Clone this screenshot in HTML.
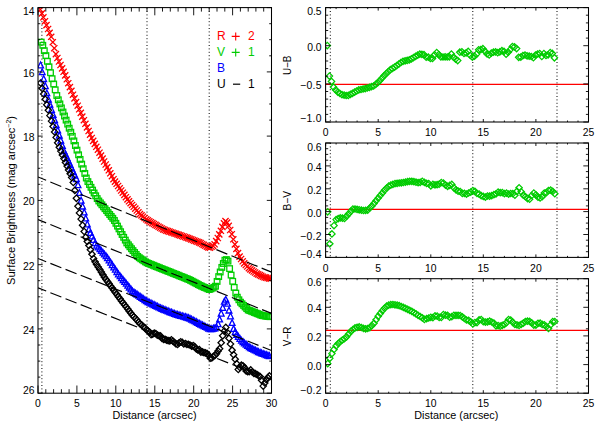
<!DOCTYPE html>
<html><head><meta charset="utf-8"><title>plot</title>
<style>
html,body{margin:0;padding:0;background:#fff;}
svg{display:block;}
text{font-family:"Liberation Sans",sans-serif;}
</style></head><body>
<svg width="598" height="423" viewBox="0 0 598 423">
<rect width="598" height="423" fill="#fff"/>
<defs>
<path id="sx" d="M-3.1,-3.1L3.1,3.1M-3.1,3.1L3.1,-3.1" fill="none" stroke="#ff0000" stroke-width="1.3"/>
<rect id="ss" x="-2.8" y="-2.8" width="5.6" height="5.6" fill="none" stroke="#00cc00" stroke-width="1.3"/>
<path id="st" d="M-2.9,2.8L0,-3L2.9,2.8Z" fill="none" stroke="#0000ff" stroke-width="1.3"/>
<path id="sd" d="M-3.2,0L0,-3.2L3.2,0L0,3.2Z" fill="none" stroke="#000" stroke-width="1.25"/>
<path id="sg" d="M-3.2,0L0,-3.2L3.2,0L0,3.2Z" fill="none" stroke="#00cc00" stroke-width="1.25"/>
<clipPath id="cl"><rect x="38" y="7.6" width="233.5" height="385.6"/></clipPath>
</defs>

<g clip-path="url(#cl)">
<line x1="41.9" y1="7.6" x2="41.9" y2="393.2" stroke="#000" stroke-width="1" stroke-dasharray="1,2.4"/>
<line x1="147.0" y1="7.6" x2="147.0" y2="393.2" stroke="#000" stroke-width="1" stroke-dasharray="1,2.4"/>
<line x1="209.2" y1="7.6" x2="209.2" y2="393.2" stroke="#000" stroke-width="1" stroke-dasharray="1,2.4"/>
<g><use href="#sx" x="40.3" y="9.5"/><use href="#sx" x="41.9" y="13.4"/><use href="#sx" x="43.4" y="17.3"/><use href="#sx" x="45.0" y="21.2"/><use href="#sx" x="46.5" y="25.1"/><use href="#sx" x="48.1" y="29.0"/><use href="#sx" x="49.6" y="32.9"/><use href="#sx" x="51.2" y="36.8"/><use href="#sx" x="52.8" y="42.2"/><use href="#sx" x="54.3" y="48.2"/><use href="#sx" x="55.9" y="54.1"/><use href="#sx" x="57.4" y="58.0"/><use href="#sx" x="59.0" y="61.5"/><use href="#sx" x="60.5" y="65.0"/><use href="#sx" x="62.1" y="68.4"/><use href="#sx" x="63.6" y="71.8"/><use href="#sx" x="65.2" y="75.4"/><use href="#sx" x="66.8" y="79.3"/><use href="#sx" x="68.3" y="83.2"/><use href="#sx" x="69.9" y="87.1"/><use href="#sx" x="71.4" y="90.9"/><use href="#sx" x="73.0" y="94.7"/><use href="#sx" x="74.5" y="98.4"/><use href="#sx" x="76.1" y="102.1"/><use href="#sx" x="77.7" y="105.7"/><use href="#sx" x="79.2" y="109.3"/><use href="#sx" x="80.8" y="112.9"/><use href="#sx" x="82.3" y="116.6"/><use href="#sx" x="83.9" y="120.2"/><use href="#sx" x="85.4" y="123.8"/><use href="#sx" x="87.0" y="127.4"/><use href="#sx" x="88.6" y="131.0"/><use href="#sx" x="90.1" y="134.6"/><use href="#sx" x="91.7" y="138.0"/><use href="#sx" x="93.2" y="140.9"/><use href="#sx" x="94.8" y="143.9"/><use href="#sx" x="96.3" y="146.8"/><use href="#sx" x="97.9" y="149.7"/><use href="#sx" x="99.5" y="152.7"/><use href="#sx" x="101.0" y="155.6"/><use href="#sx" x="102.6" y="158.6"/><use href="#sx" x="104.1" y="161.5"/><use href="#sx" x="105.7" y="164.5"/><use href="#sx" x="107.2" y="167.4"/><use href="#sx" x="108.8" y="170.3"/><use href="#sx" x="110.3" y="173.3"/><use href="#sx" x="111.9" y="176.2"/><use href="#sx" x="113.5" y="179.2"/><use href="#sx" x="115.0" y="181.6"/><use href="#sx" x="116.6" y="183.8"/><use href="#sx" x="118.1" y="186.0"/><use href="#sx" x="119.7" y="188.3"/><use href="#sx" x="121.2" y="190.5"/><use href="#sx" x="122.8" y="192.7"/><use href="#sx" x="124.4" y="194.9"/><use href="#sx" x="125.9" y="197.2"/><use href="#sx" x="127.5" y="199.4"/><use href="#sx" x="129.0" y="201.3"/><use href="#sx" x="130.6" y="203.2"/><use href="#sx" x="132.1" y="205.0"/><use href="#sx" x="133.7" y="206.8"/><use href="#sx" x="135.3" y="208.6"/><use href="#sx" x="136.8" y="210.5"/><use href="#sx" x="138.4" y="212.3"/><use href="#sx" x="139.9" y="214.1"/><use href="#sx" x="141.5" y="215.4"/><use href="#sx" x="143.0" y="216.7"/><use href="#sx" x="144.6" y="218.0"/><use href="#sx" x="146.2" y="219.3"/><use href="#sx" x="147.7" y="220.4"/><use href="#sx" x="149.3" y="221.3"/><use href="#sx" x="150.8" y="222.2"/><use href="#sx" x="152.4" y="223.1"/><use href="#sx" x="153.9" y="224.0"/><use href="#sx" x="155.5" y="224.9"/><use href="#sx" x="157.0" y="225.8"/><use href="#sx" x="158.6" y="226.7"/><use href="#sx" x="160.2" y="227.6"/><use href="#sx" x="161.7" y="228.5"/><use href="#sx" x="163.3" y="229.4"/><use href="#sx" x="164.8" y="230.0"/><use href="#sx" x="166.4" y="230.6"/><use href="#sx" x="167.9" y="231.1"/><use href="#sx" x="169.5" y="231.6"/><use href="#sx" x="171.1" y="232.2"/><use href="#sx" x="172.6" y="232.7"/><use href="#sx" x="174.2" y="233.3"/><use href="#sx" x="175.7" y="233.8"/><use href="#sx" x="177.3" y="234.3"/><use href="#sx" x="178.8" y="234.9"/><use href="#sx" x="180.4" y="235.4"/><use href="#sx" x="182.0" y="236.0"/><use href="#sx" x="183.5" y="236.5"/><use href="#sx" x="185.1" y="237.0"/><use href="#sx" x="186.6" y="237.6"/><use href="#sx" x="188.2" y="238.1"/><use href="#sx" x="189.7" y="238.8"/><use href="#sx" x="191.3" y="239.4"/><use href="#sx" x="192.9" y="240.0"/><use href="#sx" x="194.4" y="240.6"/><use href="#sx" x="196.0" y="241.2"/><use href="#sx" x="197.5" y="241.8"/><use href="#sx" x="199.1" y="242.4"/><use href="#sx" x="200.6" y="243.1"/><use href="#sx" x="202.2" y="244.0"/><use href="#sx" x="203.7" y="244.9"/><use href="#sx" x="205.3" y="245.7"/><use href="#sx" x="206.9" y="246.6"/><use href="#sx" x="208.4" y="247.4"/><use href="#sx" x="210.0" y="247.7"/><use href="#sx" x="211.5" y="246.8"/><use href="#sx" x="213.1" y="245.9"/><use href="#sx" x="214.6" y="244.3"/><use href="#sx" x="216.2" y="241.1"/><use href="#sx" x="217.8" y="238.0"/><use href="#sx" x="219.3" y="234.4"/><use href="#sx" x="220.9" y="230.8"/><use href="#sx" x="222.4" y="226.9"/><use href="#sx" x="224.0" y="223.3"/><use href="#sx" x="225.5" y="221.1"/><use href="#sx" x="227.1" y="222.6"/><use href="#sx" x="228.7" y="225.8"/><use href="#sx" x="230.2" y="230.0"/><use href="#sx" x="231.8" y="234.2"/><use href="#sx" x="233.3" y="239.3"/><use href="#sx" x="234.9" y="244.4"/><use href="#sx" x="236.4" y="248.9"/><use href="#sx" x="238.0" y="253.1"/><use href="#sx" x="239.6" y="256.6"/><use href="#sx" x="241.1" y="259.0"/><use href="#sx" x="242.7" y="261.3"/><use href="#sx" x="244.2" y="263.4"/><use href="#sx" x="245.8" y="265.0"/><use href="#sx" x="247.3" y="266.5"/><use href="#sx" x="248.9" y="268.1"/><use href="#sx" x="250.4" y="269.4"/><use href="#sx" x="252.0" y="270.4"/><use href="#sx" x="253.6" y="271.5"/><use href="#sx" x="255.1" y="272.5"/><use href="#sx" x="256.7" y="273.6"/><use href="#sx" x="258.2" y="274.4"/><use href="#sx" x="259.8" y="275.1"/><use href="#sx" x="261.3" y="275.9"/><use href="#sx" x="262.9" y="276.7"/><use href="#sx" x="264.5" y="277.3"/><use href="#sx" x="266.0" y="277.6"/><use href="#sx" x="267.6" y="278.0"/><use href="#sx" x="269.1" y="278.4"/><use href="#sx" x="270.7" y="278.7"/></g>
<g><use href="#ss" x="41.2" y="42.1"/><use href="#ss" x="42.8" y="45.3"/><use href="#ss" x="44.3" y="50.7"/><use href="#ss" x="45.9" y="55.6"/><use href="#ss" x="47.4" y="61.3"/><use href="#ss" x="49.0" y="66.8"/><use href="#ss" x="50.5" y="72.7"/><use href="#ss" x="52.1" y="78.7"/><use href="#ss" x="53.7" y="84.0"/><use href="#ss" x="55.2" y="89.8"/><use href="#ss" x="56.8" y="95.5"/><use href="#ss" x="58.3" y="99.8"/><use href="#ss" x="59.9" y="103.9"/><use href="#ss" x="61.4" y="107.9"/><use href="#ss" x="63.0" y="112.0"/><use href="#ss" x="64.5" y="116.0"/><use href="#ss" x="66.1" y="120.1"/><use href="#ss" x="67.7" y="124.1"/><use href="#ss" x="69.2" y="128.2"/><use href="#ss" x="70.8" y="132.2"/><use href="#ss" x="72.3" y="136.3"/><use href="#ss" x="73.9" y="140.9"/><use href="#ss" x="75.4" y="145.5"/><use href="#ss" x="77.0" y="150.1"/><use href="#ss" x="78.6" y="154.8"/><use href="#ss" x="80.1" y="159.4"/><use href="#ss" x="81.7" y="164.1"/><use href="#ss" x="83.2" y="168.7"/><use href="#ss" x="84.8" y="173.4"/><use href="#ss" x="86.3" y="178.0"/><use href="#ss" x="87.9" y="181.6"/><use href="#ss" x="89.5" y="184.5"/><use href="#ss" x="91.0" y="187.3"/><use href="#ss" x="92.6" y="190.1"/><use href="#ss" x="94.1" y="193.0"/><use href="#ss" x="95.7" y="195.8"/><use href="#ss" x="97.2" y="198.6"/><use href="#ss" x="98.8" y="201.0"/><use href="#ss" x="100.4" y="202.9"/><use href="#ss" x="101.9" y="204.8"/><use href="#ss" x="103.5" y="206.8"/><use href="#ss" x="105.0" y="208.7"/><use href="#ss" x="106.6" y="210.6"/><use href="#ss" x="108.1" y="212.6"/><use href="#ss" x="109.7" y="214.5"/><use href="#ss" x="111.2" y="216.4"/><use href="#ss" x="112.8" y="218.3"/><use href="#ss" x="114.4" y="220.5"/><use href="#ss" x="115.9" y="223.3"/><use href="#ss" x="117.5" y="226.1"/><use href="#ss" x="119.0" y="228.9"/><use href="#ss" x="120.6" y="231.7"/><use href="#ss" x="122.1" y="234.5"/><use href="#ss" x="123.7" y="237.3"/><use href="#ss" x="125.3" y="240.1"/><use href="#ss" x="126.8" y="242.9"/><use href="#ss" x="128.4" y="244.8"/><use href="#ss" x="129.9" y="246.8"/><use href="#ss" x="131.5" y="248.7"/><use href="#ss" x="133.0" y="250.6"/><use href="#ss" x="134.6" y="252.5"/><use href="#ss" x="136.2" y="254.5"/><use href="#ss" x="137.7" y="256.4"/><use href="#ss" x="139.3" y="257.7"/><use href="#ss" x="140.8" y="258.8"/><use href="#ss" x="142.4" y="259.8"/><use href="#ss" x="143.9" y="260.8"/><use href="#ss" x="145.5" y="261.9"/><use href="#ss" x="147.1" y="262.8"/><use href="#ss" x="148.6" y="263.5"/><use href="#ss" x="150.2" y="264.1"/><use href="#ss" x="151.7" y="264.7"/><use href="#ss" x="153.3" y="265.3"/><use href="#ss" x="154.8" y="266.0"/><use href="#ss" x="156.4" y="266.6"/><use href="#ss" x="157.9" y="267.2"/><use href="#ss" x="159.5" y="267.8"/><use href="#ss" x="161.1" y="268.5"/><use href="#ss" x="162.6" y="269.1"/><use href="#ss" x="164.2" y="269.7"/><use href="#ss" x="165.7" y="270.3"/><use href="#ss" x="167.3" y="270.9"/><use href="#ss" x="168.8" y="271.5"/><use href="#ss" x="170.4" y="272.1"/><use href="#ss" x="172.0" y="272.8"/><use href="#ss" x="173.5" y="273.4"/><use href="#ss" x="175.1" y="274.0"/><use href="#ss" x="176.6" y="274.6"/><use href="#ss" x="178.2" y="275.2"/><use href="#ss" x="179.7" y="275.9"/><use href="#ss" x="181.3" y="276.5"/><use href="#ss" x="182.9" y="277.1"/><use href="#ss" x="184.4" y="277.7"/><use href="#ss" x="186.0" y="278.4"/><use href="#ss" x="187.5" y="279.0"/><use href="#ss" x="189.1" y="279.6"/><use href="#ss" x="190.6" y="280.4"/><use href="#ss" x="192.2" y="281.2"/><use href="#ss" x="193.8" y="282.1"/><use href="#ss" x="195.3" y="282.9"/><use href="#ss" x="196.9" y="283.7"/><use href="#ss" x="198.4" y="284.6"/><use href="#ss" x="200.0" y="285.4"/><use href="#ss" x="201.5" y="286.1"/><use href="#ss" x="203.1" y="286.8"/><use href="#ss" x="204.6" y="287.5"/><use href="#ss" x="206.2" y="288.1"/><use href="#ss" x="207.8" y="288.8"/><use href="#ss" x="209.3" y="289.5"/><use href="#ss" x="210.9" y="288.9"/><use href="#ss" x="212.4" y="288.1"/><use href="#ss" x="214.0" y="287.3"/><use href="#ss" x="215.5" y="286.2"/><use href="#ss" x="217.1" y="281.4"/><use href="#ss" x="218.7" y="276.6"/><use href="#ss" x="220.2" y="272.0"/><use href="#ss" x="221.8" y="267.4"/><use href="#ss" x="223.3" y="263.5"/><use href="#ss" x="224.9" y="260.2"/><use href="#ss" x="226.4" y="259.6"/><use href="#ss" x="228.0" y="261.1"/><use href="#ss" x="229.6" y="268.6"/><use href="#ss" x="231.1" y="275.1"/><use href="#ss" x="232.7" y="281.3"/><use href="#ss" x="234.2" y="287.4"/><use href="#ss" x="235.8" y="293.1"/><use href="#ss" x="237.3" y="297.2"/><use href="#ss" x="238.9" y="299.8"/><use href="#ss" x="240.5" y="302.2"/><use href="#ss" x="242.0" y="303.8"/><use href="#ss" x="243.6" y="305.4"/><use href="#ss" x="245.1" y="307.0"/><use href="#ss" x="246.7" y="308.6"/><use href="#ss" x="248.2" y="310.0"/><use href="#ss" x="249.8" y="310.6"/><use href="#ss" x="251.3" y="311.2"/><use href="#ss" x="252.9" y="311.8"/><use href="#ss" x="254.5" y="312.5"/><use href="#ss" x="256.0" y="313.1"/><use href="#ss" x="257.6" y="313.7"/><use href="#ss" x="259.1" y="314.3"/><use href="#ss" x="260.7" y="315.0"/><use href="#ss" x="262.2" y="315.5"/><use href="#ss" x="263.8" y="315.8"/><use href="#ss" x="265.4" y="316.0"/><use href="#ss" x="266.9" y="316.3"/><use href="#ss" x="268.5" y="316.5"/><use href="#ss" x="270.0" y="316.7"/></g>
<g><use href="#st" x="40.6" y="65.0"/><use href="#st" x="42.2" y="71.9"/><use href="#st" x="43.7" y="78.7"/><use href="#st" x="45.3" y="85.8"/><use href="#st" x="46.8" y="92.9"/><use href="#st" x="48.4" y="99.2"/><use href="#st" x="49.9" y="104.3"/><use href="#st" x="51.5" y="109.5"/><use href="#st" x="53.1" y="114.6"/><use href="#st" x="54.6" y="119.8"/><use href="#st" x="56.2" y="124.9"/><use href="#st" x="57.7" y="130.1"/><use href="#st" x="59.3" y="135.3"/><use href="#st" x="60.8" y="140.4"/><use href="#st" x="62.4" y="145.6"/><use href="#st" x="63.9" y="150.7"/><use href="#st" x="65.5" y="154.3"/><use href="#st" x="67.1" y="157.8"/><use href="#st" x="68.6" y="161.2"/><use href="#st" x="70.2" y="164.7"/><use href="#st" x="71.7" y="168.2"/><use href="#st" x="73.3" y="171.7"/><use href="#st" x="74.8" y="175.2"/><use href="#st" x="76.4" y="178.7"/><use href="#st" x="78.0" y="184.8"/><use href="#st" x="79.5" y="192.6"/><use href="#st" x="81.1" y="200.3"/><use href="#st" x="82.6" y="206.2"/><use href="#st" x="84.2" y="212.1"/><use href="#st" x="85.7" y="218.1"/><use href="#st" x="87.3" y="224.0"/><use href="#st" x="88.9" y="229.2"/><use href="#st" x="90.4" y="232.6"/><use href="#st" x="92.0" y="236.1"/><use href="#st" x="93.5" y="239.5"/><use href="#st" x="95.1" y="242.9"/><use href="#st" x="96.6" y="245.4"/><use href="#st" x="98.2" y="247.1"/><use href="#st" x="99.8" y="248.9"/><use href="#st" x="101.3" y="250.6"/><use href="#st" x="102.9" y="252.4"/><use href="#st" x="104.4" y="254.1"/><use href="#st" x="106.0" y="255.9"/><use href="#st" x="107.5" y="257.8"/><use href="#st" x="109.1" y="260.1"/><use href="#st" x="110.6" y="262.4"/><use href="#st" x="112.2" y="264.8"/><use href="#st" x="113.8" y="267.1"/><use href="#st" x="115.3" y="269.4"/><use href="#st" x="116.9" y="271.7"/><use href="#st" x="118.4" y="274.0"/><use href="#st" x="120.0" y="275.9"/><use href="#st" x="121.5" y="277.8"/><use href="#st" x="123.1" y="279.7"/><use href="#st" x="124.7" y="281.5"/><use href="#st" x="126.2" y="283.4"/><use href="#st" x="127.8" y="285.3"/><use href="#st" x="129.3" y="287.2"/><use href="#st" x="130.9" y="289.0"/><use href="#st" x="132.4" y="290.9"/><use href="#st" x="134.0" y="292.1"/><use href="#st" x="135.6" y="293.2"/><use href="#st" x="137.1" y="294.3"/><use href="#st" x="138.7" y="295.4"/><use href="#st" x="140.2" y="296.5"/><use href="#st" x="141.8" y="297.5"/><use href="#st" x="143.3" y="298.6"/><use href="#st" x="144.9" y="299.7"/><use href="#st" x="146.5" y="300.8"/><use href="#st" x="148.0" y="301.7"/><use href="#st" x="149.6" y="302.4"/><use href="#st" x="151.1" y="303.2"/><use href="#st" x="152.7" y="304.0"/><use href="#st" x="154.2" y="304.8"/><use href="#st" x="155.8" y="305.5"/><use href="#st" x="157.3" y="306.3"/><use href="#st" x="158.9" y="307.1"/><use href="#st" x="160.5" y="307.9"/><use href="#st" x="162.0" y="308.5"/><use href="#st" x="163.6" y="309.2"/><use href="#st" x="165.1" y="309.8"/><use href="#st" x="166.7" y="310.4"/><use href="#st" x="168.2" y="311.0"/><use href="#st" x="169.8" y="311.7"/><use href="#st" x="171.4" y="312.3"/><use href="#st" x="172.9" y="312.9"/><use href="#st" x="174.5" y="313.5"/><use href="#st" x="176.0" y="314.1"/><use href="#st" x="177.6" y="314.5"/><use href="#st" x="179.1" y="315.0"/><use href="#st" x="180.7" y="315.5"/><use href="#st" x="182.3" y="315.9"/><use href="#st" x="183.8" y="316.4"/><use href="#st" x="185.4" y="316.8"/><use href="#st" x="186.9" y="317.3"/><use href="#st" x="188.5" y="317.8"/><use href="#st" x="190.0" y="318.4"/><use href="#st" x="191.6" y="319.2"/><use href="#st" x="193.2" y="320.1"/><use href="#st" x="194.7" y="320.9"/><use href="#st" x="196.3" y="321.8"/><use href="#st" x="197.8" y="322.6"/><use href="#st" x="199.4" y="323.5"/><use href="#st" x="200.9" y="324.3"/><use href="#st" x="202.5" y="325.0"/><use href="#st" x="204.0" y="325.8"/><use href="#st" x="205.6" y="326.6"/><use href="#st" x="207.2" y="327.4"/><use href="#st" x="208.7" y="328.2"/><use href="#st" x="210.3" y="328.9"/><use href="#st" x="211.8" y="328.7"/><use href="#st" x="213.4" y="328.3"/><use href="#st" x="214.9" y="328.0"/><use href="#st" x="216.5" y="326.9"/><use href="#st" x="218.1" y="323.8"/><use href="#st" x="219.6" y="319.1"/><use href="#st" x="221.2" y="313.3"/><use href="#st" x="222.7" y="307.5"/><use href="#st" x="224.3" y="301.4"/><use href="#st" x="225.8" y="299.4"/><use href="#st" x="227.4" y="303.4"/><use href="#st" x="229.0" y="310.2"/><use href="#st" x="230.5" y="316.0"/><use href="#st" x="232.1" y="322.6"/><use href="#st" x="233.6" y="328.6"/><use href="#st" x="235.2" y="331.7"/><use href="#st" x="236.7" y="334.6"/><use href="#st" x="238.3" y="336.5"/><use href="#st" x="239.9" y="338.5"/><use href="#st" x="241.4" y="340.4"/><use href="#st" x="243.0" y="341.7"/><use href="#st" x="244.5" y="343.0"/><use href="#st" x="246.1" y="344.3"/><use href="#st" x="247.6" y="345.6"/><use href="#st" x="249.2" y="346.9"/><use href="#st" x="250.7" y="347.8"/><use href="#st" x="252.3" y="348.6"/><use href="#st" x="253.9" y="349.4"/><use href="#st" x="255.4" y="350.1"/><use href="#st" x="257.0" y="350.9"/><use href="#st" x="258.5" y="351.7"/><use href="#st" x="260.1" y="352.4"/><use href="#st" x="261.6" y="353.0"/><use href="#st" x="263.2" y="353.6"/><use href="#st" x="264.8" y="354.1"/><use href="#st" x="266.3" y="354.7"/><use href="#st" x="267.9" y="355.3"/><use href="#st" x="269.4" y="355.8"/></g>
<g><use href="#sd" x="40.6" y="83.0"/><use href="#sd" x="42.2" y="88.4"/><use href="#sd" x="43.7" y="93.9"/><use href="#sd" x="45.3" y="99.3"/><use href="#sd" x="46.8" y="104.8"/><use href="#sd" x="48.4" y="110.2"/><use href="#sd" x="49.9" y="115.6"/><use href="#sd" x="51.5" y="121.1"/><use href="#sd" x="53.1" y="126.5"/><use href="#sd" x="54.6" y="132.0"/><use href="#sd" x="56.2" y="137.4"/><use href="#sd" x="57.7" y="142.8"/><use href="#sd" x="59.3" y="147.3"/><use href="#sd" x="60.8" y="151.1"/><use href="#sd" x="62.4" y="154.9"/><use href="#sd" x="63.9" y="158.6"/><use href="#sd" x="65.5" y="162.4"/><use href="#sd" x="67.1" y="166.1"/><use href="#sd" x="68.6" y="169.9"/><use href="#sd" x="70.2" y="173.7"/><use href="#sd" x="71.7" y="177.4"/><use href="#sd" x="73.3" y="182.5"/><use href="#sd" x="74.8" y="190.4"/><use href="#sd" x="76.4" y="198.3"/><use href="#sd" x="78.0" y="206.2"/><use href="#sd" x="79.5" y="212.9"/><use href="#sd" x="81.1" y="219.1"/><use href="#sd" x="82.6" y="225.3"/><use href="#sd" x="84.2" y="231.5"/><use href="#sd" x="85.7" y="237.3"/><use href="#sd" x="87.3" y="241.4"/><use href="#sd" x="88.9" y="245.5"/><use href="#sd" x="90.4" y="249.7"/><use href="#sd" x="92.0" y="254.2"/><use href="#sd" x="93.5" y="258.6"/><use href="#sd" x="95.1" y="261.8"/><use href="#sd" x="96.6" y="264.4"/><use href="#sd" x="98.2" y="267.0"/><use href="#sd" x="99.8" y="269.5"/><use href="#sd" x="101.3" y="272.1"/><use href="#sd" x="102.9" y="274.7"/><use href="#sd" x="104.4" y="277.2"/><use href="#sd" x="106.0" y="279.4"/><use href="#sd" x="107.5" y="281.6"/><use href="#sd" x="109.1" y="283.7"/><use href="#sd" x="110.6" y="285.9"/><use href="#sd" x="112.2" y="288.1"/><use href="#sd" x="113.8" y="290.2"/><use href="#sd" x="115.3" y="292.4"/><use href="#sd" x="116.9" y="294.6"/><use href="#sd" x="118.4" y="296.7"/><use href="#sd" x="120.0" y="298.8"/><use href="#sd" x="121.5" y="300.9"/><use href="#sd" x="123.1" y="302.9"/><use href="#sd" x="124.7" y="305.0"/><use href="#sd" x="126.2" y="307.0"/><use href="#sd" x="127.8" y="309.1"/><use href="#sd" x="129.3" y="311.2"/><use href="#sd" x="130.9" y="313.2"/><use href="#sd" x="132.4" y="315.3"/><use href="#sd" x="134.0" y="316.8"/><use href="#sd" x="135.6" y="318.5"/><use href="#sd" x="137.1" y="320.3"/><use href="#sd" x="138.7" y="322.2"/><use href="#sd" x="140.2" y="324.0"/><use href="#sd" x="141.8" y="325.1"/><use href="#sd" x="143.3" y="326.7"/><use href="#sd" x="144.9" y="327.8"/><use href="#sd" x="146.5" y="329.8"/><use href="#sd" x="148.0" y="330.8"/><use href="#sd" x="149.6" y="332.1"/><use href="#sd" x="151.1" y="334.6"/><use href="#sd" x="152.7" y="334.2"/><use href="#sd" x="154.2" y="333.2"/><use href="#sd" x="155.8" y="333.5"/><use href="#sd" x="157.3" y="335.2"/><use href="#sd" x="158.9" y="335.5"/><use href="#sd" x="160.5" y="335.9"/><use href="#sd" x="162.0" y="338.5"/><use href="#sd" x="163.6" y="339.3"/><use href="#sd" x="165.1" y="339.3"/><use href="#sd" x="166.7" y="340.2"/><use href="#sd" x="168.2" y="340.7"/><use href="#sd" x="169.8" y="340.9"/><use href="#sd" x="171.4" y="339.8"/><use href="#sd" x="172.9" y="341.2"/><use href="#sd" x="174.5" y="342.5"/><use href="#sd" x="176.0" y="343.8"/><use href="#sd" x="177.6" y="344.4"/><use href="#sd" x="179.1" y="342.8"/><use href="#sd" x="180.7" y="341.8"/><use href="#sd" x="182.3" y="342.4"/><use href="#sd" x="183.8" y="344.0"/><use href="#sd" x="185.4" y="343.5"/><use href="#sd" x="186.9" y="344.3"/><use href="#sd" x="188.5" y="344.4"/><use href="#sd" x="190.0" y="345.0"/><use href="#sd" x="191.6" y="346.1"/><use href="#sd" x="193.2" y="345.6"/><use href="#sd" x="194.7" y="346.7"/><use href="#sd" x="196.3" y="349.0"/><use href="#sd" x="197.8" y="350.0"/><use href="#sd" x="199.4" y="349.7"/><use href="#sd" x="200.9" y="352.1"/><use href="#sd" x="202.5" y="351.9"/><use href="#sd" x="204.0" y="352.7"/><use href="#sd" x="205.6" y="352.9"/><use href="#sd" x="207.2" y="353.5"/><use href="#sd" x="208.7" y="355.4"/><use href="#sd" x="210.3" y="358.2"/><use href="#sd" x="211.8" y="358.0"/><use href="#sd" x="213.4" y="356.3"/><use href="#sd" x="214.9" y="355.4"/><use href="#sd" x="216.5" y="353.7"/><use href="#sd" x="218.1" y="351.0"/><use href="#sd" x="219.6" y="348.7"/><use href="#sd" x="221.2" y="342.7"/><use href="#sd" x="222.7" y="335.8"/><use href="#sd" x="224.3" y="331.1"/><use href="#sd" x="225.8" y="327.4"/><use href="#sd" x="227.4" y="332.5"/><use href="#sd" x="229.0" y="338.3"/><use href="#sd" x="230.5" y="344.0"/><use href="#sd" x="232.1" y="350.2"/><use href="#sd" x="233.6" y="354.7"/><use href="#sd" x="235.2" y="359.2"/><use href="#sd" x="236.7" y="363.7"/><use href="#sd" x="238.3" y="369.4"/><use href="#sd" x="239.9" y="367.4"/><use href="#sd" x="241.4" y="365.2"/><use href="#sd" x="243.0" y="365.8"/><use href="#sd" x="244.5" y="367.6"/><use href="#sd" x="246.1" y="370.9"/><use href="#sd" x="247.6" y="371.6"/><use href="#sd" x="249.2" y="371.6"/><use href="#sd" x="250.7" y="369.9"/><use href="#sd" x="252.3" y="372.0"/><use href="#sd" x="253.9" y="373.4"/><use href="#sd" x="255.4" y="373.7"/><use href="#sd" x="257.0" y="374.5"/><use href="#sd" x="258.5" y="375.6"/><use href="#sd" x="260.1" y="376.5"/><use href="#sd" x="261.6" y="380.3"/><use href="#sd" x="263.2" y="386.1"/><use href="#sd" x="264.8" y="383.0"/><use href="#sd" x="266.3" y="379.7"/><use href="#sd" x="267.9" y="377.7"/><use href="#sd" x="269.4" y="375.9"/></g>
<line x1="38.0" y1="177.0" x2="271.5" y2="272.1" stroke="#000" stroke-width="1.15" stroke-dasharray="11.8,4.5" stroke-dashoffset="3"/>
<line x1="38.0" y1="219.6" x2="271.5" y2="313.4" stroke="#000" stroke-width="1.15" stroke-dasharray="11.8,4.5" stroke-dashoffset="3"/>
<line x1="38.0" y1="258.5" x2="271.5" y2="350.5" stroke="#000" stroke-width="1.15" stroke-dasharray="11.8,4.5" stroke-dashoffset="3"/>
<line x1="38.0" y1="287.8" x2="271.5" y2="380.0" stroke="#000" stroke-width="1.15" stroke-dasharray="11.8,4.5" stroke-dashoffset="3"/>
</g>
<rect x="38.0" y="7.6" width="233.5" height="385.6" fill="none" stroke="#000" stroke-width="1.05"/>
<path d="M38.0,393.2v-7.7M38.0,7.6v7.7M45.8,393.2v-4.0M45.8,7.6v4.0M53.6,393.2v-4.0M53.6,7.6v4.0M61.4,393.2v-4.0M61.4,7.6v4.0M69.1,393.2v-4.0M69.1,7.6v4.0M76.9,393.2v-7.7M76.9,7.6v7.7M84.7,393.2v-4.0M84.7,7.6v4.0M92.5,393.2v-4.0M92.5,7.6v4.0M100.3,393.2v-4.0M100.3,7.6v4.0M108.0,393.2v-4.0M108.0,7.6v4.0M115.8,393.2v-7.7M115.8,7.6v7.7M123.6,393.2v-4.0M123.6,7.6v4.0M131.4,393.2v-4.0M131.4,7.6v4.0M139.2,393.2v-4.0M139.2,7.6v4.0M147.0,393.2v-4.0M147.0,7.6v4.0M154.8,393.2v-7.7M154.8,7.6v7.7M162.5,393.2v-4.0M162.5,7.6v4.0M170.3,393.2v-4.0M170.3,7.6v4.0M178.1,393.2v-4.0M178.1,7.6v4.0M185.9,393.2v-4.0M185.9,7.6v4.0M193.7,393.2v-7.7M193.7,7.6v7.7M201.4,393.2v-4.0M201.4,7.6v4.0M209.2,393.2v-4.0M209.2,7.6v4.0M217.0,393.2v-4.0M217.0,7.6v4.0M224.8,393.2v-4.0M224.8,7.6v4.0M232.6,393.2v-7.7M232.6,7.6v7.7M240.4,393.2v-4.0M240.4,7.6v4.0M248.2,393.2v-4.0M248.2,7.6v4.0M255.9,393.2v-4.0M255.9,7.6v4.0M263.7,393.2v-4.0M263.7,7.6v4.0M271.5,393.2v-7.7M271.5,7.6v7.7" stroke="#000" stroke-width="0.9" fill="none"/>
<path d="M38.0,7.6h4.7M271.5,7.6h-4.7M38.0,23.7h2.3M271.5,23.7h-2.3M38.0,39.7h2.3M271.5,39.7h-2.3M38.0,55.8h2.3M271.5,55.8h-2.3M38.0,71.9h4.7M271.5,71.9h-4.7M38.0,87.9h2.3M271.5,87.9h-2.3M38.0,104.0h2.3M271.5,104.0h-2.3M38.0,120.1h2.3M271.5,120.1h-2.3M38.0,136.1h4.7M271.5,136.1h-4.7M38.0,152.2h2.3M271.5,152.2h-2.3M38.0,168.3h2.3M271.5,168.3h-2.3M38.0,184.3h2.3M271.5,184.3h-2.3M38.0,200.4h4.7M271.5,200.4h-4.7M38.0,216.5h2.3M271.5,216.5h-2.3M38.0,232.5h2.3M271.5,232.5h-2.3M38.0,248.6h2.3M271.5,248.6h-2.3M38.0,264.7h4.7M271.5,264.7h-4.7M38.0,280.7h2.3M271.5,280.7h-2.3M38.0,296.8h2.3M271.5,296.8h-2.3M38.0,312.9h2.3M271.5,312.9h-2.3M38.0,328.9h4.7M271.5,328.9h-4.7M38.0,345.0h2.3M271.5,345.0h-2.3M38.0,361.1h2.3M271.5,361.1h-2.3M38.0,377.1h2.3M271.5,377.1h-2.3M38.0,393.2h4.7M271.5,393.2h-4.7" stroke="#000" stroke-width="0.9" fill="none"/>
<text x="38.0" y="407.2" font-size="10.4" text-anchor="middle" fill="#000" >0</text>
<text x="76.9" y="407.2" font-size="10.4" text-anchor="middle" fill="#000" >5</text>
<text x="115.8" y="407.2" font-size="10.4" text-anchor="middle" fill="#000" >10</text>
<text x="154.8" y="407.2" font-size="10.4" text-anchor="middle" fill="#000" >15</text>
<text x="193.7" y="407.2" font-size="10.4" text-anchor="middle" fill="#000" >20</text>
<text x="232.6" y="407.2" font-size="10.4" text-anchor="middle" fill="#000" >25</text>
<text x="271.5" y="407.2" font-size="10.4" text-anchor="middle" fill="#000" >30</text>
<text x="34.5" y="15.2" font-size="10.4" text-anchor="end" fill="#000" >14</text>
<text x="34.5" y="76.9" font-size="10.4" text-anchor="end" fill="#000" >16</text>
<text x="34.5" y="141.1" font-size="10.4" text-anchor="end" fill="#000" >18</text>
<text x="34.5" y="205.4" font-size="10.4" text-anchor="end" fill="#000" >20</text>
<text x="34.5" y="269.7" font-size="10.4" text-anchor="end" fill="#000" >22</text>
<text x="34.5" y="333.9" font-size="10.4" text-anchor="end" fill="#000" >24</text>
<text x="34.5" y="393.5" font-size="10.4" text-anchor="end" fill="#000" >26</text>
<text x="154.5" y="419.0" font-size="10.4" text-anchor="middle" fill="#000" textLength="84" lengthAdjust="spacingAndGlyphs">Distance (arcsec)</text>
<text transform="translate(14.7,200.5) rotate(-90)" font-size="10.4" text-anchor="middle" textLength="169" lengthAdjust="spacingAndGlyphs">Surface Brightness (mag arcsec<tspan dy="-3.5" font-size="6.5">−2</tspan><tspan dy="3.5">)</tspan></text>
<text x="217.0" y="39.8" font-size="12" text-anchor="start" fill="#ff0000" >R</text>
<path d="M231.7,36.4h8M235.7,32.4v8" stroke="#ff0000" stroke-width="1.1" fill="none"/>
<text x="248.0" y="39.8" font-size="12" text-anchor="start" fill="#ff0000" >2</text>
<text x="217.0" y="55.8" font-size="12" text-anchor="start" fill="#00cc00" >V</text>
<path d="M231.7,52.4h8M235.7,48.4v8" stroke="#00cc00" stroke-width="1.1" fill="none"/>
<text x="248.0" y="55.8" font-size="12" text-anchor="start" fill="#00cc00" >1</text>
<text x="217.0" y="71.8" font-size="12" text-anchor="start" fill="#0000ff" >B</text>
<text x="217.0" y="87.8" font-size="12" text-anchor="start" fill="#000" >U</text>
<path d="M233,84.2h7.2" stroke="#000" stroke-width="1.2" fill="none"/>
<text x="248.0" y="87.8" font-size="12" text-anchor="start" fill="#000" >1</text>
<clipPath id="cr1"><rect x="325.6" y="7.6" width="262.9" height="114.4"/></clipPath>
<g clip-path="url(#cr1)">
<line x1="330.3" y1="7.6" x2="330.3" y2="122.0" stroke="#000" stroke-width="1" stroke-dasharray="1,2.4"/>
<line x1="472.8" y1="7.6" x2="472.8" y2="122.0" stroke="#000" stroke-width="1" stroke-dasharray="1,2.4"/>
<line x1="557.0" y1="7.6" x2="557.0" y2="122.0" stroke="#000" stroke-width="1" stroke-dasharray="1,2.4"/>
<line x1="325.6" y1="84.4" x2="588.5" y2="84.4" stroke="#ff0000" stroke-width="1.2"/>
<g><use href="#sg" x="327.3" y="45.6"/><use href="#sg" x="329.4" y="76.1"/><use href="#sg" x="331.5" y="81.4"/><use href="#sg" x="333.6" y="87.2"/><use href="#sg" x="335.7" y="90.0"/><use href="#sg" x="337.8" y="92.1"/><use href="#sg" x="339.9" y="93.5"/><use href="#sg" x="342.0" y="94.7"/><use href="#sg" x="344.1" y="95.1"/><use href="#sg" x="346.2" y="95.5"/><use href="#sg" x="348.3" y="95.4"/><use href="#sg" x="350.4" y="94.4"/><use href="#sg" x="352.5" y="93.3"/><use href="#sg" x="354.6" y="92.2"/><use href="#sg" x="356.7" y="91.0"/><use href="#sg" x="358.8" y="89.9"/><use href="#sg" x="361.0" y="89.5"/><use href="#sg" x="363.1" y="89.0"/><use href="#sg" x="365.2" y="88.6"/><use href="#sg" x="367.3" y="88.0"/><use href="#sg" x="369.4" y="87.4"/><use href="#sg" x="371.5" y="86.7"/><use href="#sg" x="373.6" y="86.0"/><use href="#sg" x="375.7" y="84.4"/><use href="#sg" x="377.8" y="82.7"/><use href="#sg" x="379.9" y="80.5"/><use href="#sg" x="382.0" y="78.1"/><use href="#sg" x="384.1" y="75.7"/><use href="#sg" x="386.2" y="73.6"/><use href="#sg" x="388.3" y="71.6"/><use href="#sg" x="390.4" y="69.7"/><use href="#sg" x="392.5" y="68.4"/><use href="#sg" x="394.6" y="67.1"/><use href="#sg" x="396.7" y="65.6"/><use href="#sg" x="398.8" y="64.1"/><use href="#sg" x="400.9" y="62.5"/><use href="#sg" x="403.0" y="61.3"/><use href="#sg" x="405.1" y="60.8"/><use href="#sg" x="407.2" y="60.4"/><use href="#sg" x="409.3" y="59.9"/><use href="#sg" x="411.4" y="58.9"/><use href="#sg" x="413.5" y="57.6"/><use href="#sg" x="415.6" y="56.3"/><use href="#sg" x="417.7" y="55.2"/><use href="#sg" x="419.8" y="54.2"/><use href="#sg" x="421.9" y="54.3"/><use href="#sg" x="424.0" y="54.7"/><use href="#sg" x="426.2" y="57.2"/><use href="#sg" x="428.3" y="57.2"/><use href="#sg" x="430.4" y="58.5"/><use href="#sg" x="432.5" y="58.4"/><use href="#sg" x="434.6" y="54.8"/><use href="#sg" x="436.7" y="52.6"/><use href="#sg" x="438.8" y="54.6"/><use href="#sg" x="440.9" y="56.9"/><use href="#sg" x="443.0" y="57.0"/><use href="#sg" x="445.1" y="56.8"/><use href="#sg" x="447.2" y="57.0"/><use href="#sg" x="449.3" y="56.8"/><use href="#sg" x="451.4" y="54.0"/><use href="#sg" x="453.5" y="57.2"/><use href="#sg" x="455.6" y="59.1"/><use href="#sg" x="457.7" y="60.6"/><use href="#sg" x="459.8" y="52.2"/><use href="#sg" x="461.9" y="51.8"/><use href="#sg" x="464.0" y="53.5"/><use href="#sg" x="466.1" y="52.9"/><use href="#sg" x="468.2" y="51.4"/><use href="#sg" x="470.3" y="55.4"/><use href="#sg" x="472.4" y="57.1"/><use href="#sg" x="474.5" y="56.2"/><use href="#sg" x="476.6" y="54.1"/><use href="#sg" x="478.7" y="49.8"/><use href="#sg" x="480.8" y="49.6"/><use href="#sg" x="482.9" y="48.7"/><use href="#sg" x="485.0" y="51.3"/><use href="#sg" x="487.1" y="53.9"/><use href="#sg" x="489.2" y="55.0"/><use href="#sg" x="491.3" y="53.1"/><use href="#sg" x="493.5" y="52.2"/><use href="#sg" x="495.6" y="51.9"/><use href="#sg" x="497.7" y="52.7"/><use href="#sg" x="499.8" y="51.9"/><use href="#sg" x="501.9" y="50.7"/><use href="#sg" x="504.0" y="51.4"/><use href="#sg" x="506.1" y="54.2"/><use href="#sg" x="508.2" y="52.2"/><use href="#sg" x="510.3" y="49.6"/><use href="#sg" x="512.4" y="46.5"/><use href="#sg" x="514.5" y="46.9"/><use href="#sg" x="516.6" y="48.6"/><use href="#sg" x="518.7" y="57.3"/><use href="#sg" x="520.8" y="57.1"/><use href="#sg" x="522.9" y="55.6"/><use href="#sg" x="525.0" y="55.0"/><use href="#sg" x="527.1" y="55.9"/><use href="#sg" x="529.2" y="56.2"/><use href="#sg" x="531.3" y="56.5"/><use href="#sg" x="533.4" y="57.7"/><use href="#sg" x="535.5" y="55.1"/><use href="#sg" x="537.6" y="54.0"/><use href="#sg" x="539.7" y="53.5"/><use href="#sg" x="541.8" y="56.5"/><use href="#sg" x="543.9" y="53.6"/><use href="#sg" x="546.0" y="55.4"/><use href="#sg" x="548.1" y="54.8"/><use href="#sg" x="550.2" y="52.6"/><use href="#sg" x="552.3" y="53.4"/><use href="#sg" x="554.4" y="57.8"/></g>
</g>
<rect x="325.6" y="7.6" width="262.9" height="114.4" fill="none" stroke="#000" stroke-width="1.05"/>
<path d="M325.6,122.0v-3.0M325.6,7.6v3.0M336.1,122.0v-1.5M336.1,7.6v1.5M346.6,122.0v-1.5M346.6,7.6v1.5M357.1,122.0v-1.5M357.1,7.6v1.5M367.7,122.0v-1.5M367.7,7.6v1.5M378.2,122.0v-3.0M378.2,7.6v3.0M388.7,122.0v-1.5M388.7,7.6v1.5M399.2,122.0v-1.5M399.2,7.6v1.5M409.7,122.0v-1.5M409.7,7.6v1.5M420.2,122.0v-1.5M420.2,7.6v1.5M430.8,122.0v-3.0M430.8,7.6v3.0M441.3,122.0v-1.5M441.3,7.6v1.5M451.8,122.0v-1.5M451.8,7.6v1.5M462.3,122.0v-1.5M462.3,7.6v1.5M472.8,122.0v-1.5M472.8,7.6v1.5M483.3,122.0v-3.0M483.3,7.6v3.0M493.9,122.0v-1.5M493.9,7.6v1.5M504.4,122.0v-1.5M504.4,7.6v1.5M514.9,122.0v-1.5M514.9,7.6v1.5M525.4,122.0v-1.5M525.4,7.6v1.5M535.9,122.0v-3.0M535.9,7.6v3.0M546.4,122.0v-1.5M546.4,7.6v1.5M557.0,122.0v-1.5M557.0,7.6v1.5M567.5,122.0v-1.5M567.5,7.6v1.5M578.0,122.0v-1.5M578.0,7.6v1.5M588.5,122.0v-3.0M588.5,7.6v3.0" stroke="#000" stroke-width="0.9" fill="none"/>
<path d="M325.6,7.6h5.2M588.5,7.6h-5.2M325.6,15.2h2.6M588.5,15.2h-2.6M325.6,22.9h2.6M588.5,22.9h-2.6M325.6,30.5h2.6M588.5,30.5h-2.6M325.6,38.1h2.6M588.5,38.1h-2.6M325.6,45.7h5.2M588.5,45.7h-5.2M325.6,53.4h2.6M588.5,53.4h-2.6M325.6,61.0h2.6M588.5,61.0h-2.6M325.6,68.6h2.6M588.5,68.6h-2.6M325.6,76.2h2.6M588.5,76.2h-2.6M325.6,83.9h5.2M588.5,83.9h-5.2M325.6,91.5h2.6M588.5,91.5h-2.6M325.6,99.1h2.6M588.5,99.1h-2.6M325.6,106.7h2.6M588.5,106.7h-2.6M325.6,114.4h2.6M588.5,114.4h-2.6M325.6,122.0h5.2M588.5,122.0h-5.2" stroke="#000" stroke-width="0.9" fill="none"/>
<text x="321.6" y="15.2" font-size="10.4" text-anchor="end" fill="#000" >0.5</text>
<text x="321.6" y="50.7" font-size="10.4" text-anchor="end" fill="#000" >0.0</text>
<text x="321.6" y="88.9" font-size="10.4" text-anchor="end" fill="#000" textLength="21.5" lengthAdjust="spacing">−0.5</text>
<text x="321.6" y="122.3" font-size="10.4" text-anchor="end" fill="#000" textLength="21.5" lengthAdjust="spacing">−1.0</text>
<text x="325.6" y="136.1" font-size="10.4" text-anchor="middle" fill="#000" >0</text>
<text x="378.2" y="136.1" font-size="10.4" text-anchor="middle" fill="#000" >5</text>
<text x="430.8" y="136.1" font-size="10.4" text-anchor="middle" fill="#000" >10</text>
<text x="483.3" y="136.1" font-size="10.4" text-anchor="middle" fill="#000" >15</text>
<text x="535.9" y="136.1" font-size="10.4" text-anchor="middle" fill="#000" >20</text>
<text x="588.5" y="136.1" font-size="10.4" text-anchor="middle" fill="#000" >25</text>
<text transform="translate(291.2,65.3) rotate(-90)" font-size="10.4" text-anchor="middle" textLength="19.5" lengthAdjust="spacingAndGlyphs">U−B</text>
<clipPath id="cr2"><rect x="325.6" y="143.0" width="262.9" height="114.4"/></clipPath>
<g clip-path="url(#cr2)">
<line x1="330.3" y1="143.0" x2="330.3" y2="257.4" stroke="#000" stroke-width="1" stroke-dasharray="1,2.4"/>
<line x1="472.8" y1="143.0" x2="472.8" y2="257.4" stroke="#000" stroke-width="1" stroke-dasharray="1,2.4"/>
<line x1="557.0" y1="143.0" x2="557.0" y2="257.4" stroke="#000" stroke-width="1" stroke-dasharray="1,2.4"/>
<line x1="325.6" y1="209.3" x2="588.5" y2="209.3" stroke="#ff0000" stroke-width="1.2"/>
<g><use href="#sg" x="327.7" y="211.8"/><use href="#sg" x="329.8" y="243.8"/><use href="#sg" x="331.9" y="233.9"/><use href="#sg" x="334.0" y="225.6"/><use href="#sg" x="336.1" y="219.6"/><use href="#sg" x="338.2" y="218.7"/><use href="#sg" x="340.3" y="217.9"/><use href="#sg" x="342.4" y="218.2"/><use href="#sg" x="344.5" y="218.5"/><use href="#sg" x="346.6" y="216.2"/><use href="#sg" x="348.7" y="213.8"/><use href="#sg" x="350.8" y="211.4"/><use href="#sg" x="352.9" y="209.0"/><use href="#sg" x="355.0" y="209.0"/><use href="#sg" x="357.1" y="209.4"/><use href="#sg" x="359.2" y="209.8"/><use href="#sg" x="361.4" y="210.2"/><use href="#sg" x="363.5" y="210.5"/><use href="#sg" x="365.6" y="210.3"/><use href="#sg" x="367.7" y="210.1"/><use href="#sg" x="369.8" y="208.0"/><use href="#sg" x="371.9" y="205.9"/><use href="#sg" x="374.0" y="203.4"/><use href="#sg" x="376.1" y="200.7"/><use href="#sg" x="378.2" y="198.1"/><use href="#sg" x="380.3" y="195.5"/><use href="#sg" x="382.4" y="192.9"/><use href="#sg" x="384.5" y="190.3"/><use href="#sg" x="386.6" y="188.2"/><use href="#sg" x="388.7" y="186.1"/><use href="#sg" x="390.8" y="185.1"/><use href="#sg" x="392.9" y="184.3"/><use href="#sg" x="395.0" y="183.6"/><use href="#sg" x="397.1" y="183.3"/><use href="#sg" x="399.2" y="183.0"/><use href="#sg" x="401.3" y="182.8"/><use href="#sg" x="403.4" y="182.5"/><use href="#sg" x="405.5" y="182.1"/><use href="#sg" x="407.6" y="181.7"/><use href="#sg" x="409.7" y="181.3"/><use href="#sg" x="411.8" y="181.3"/><use href="#sg" x="413.9" y="181.7"/><use href="#sg" x="416.0" y="182.2"/><use href="#sg" x="418.1" y="182.6"/><use href="#sg" x="420.2" y="182.3"/><use href="#sg" x="422.3" y="181.3"/><use href="#sg" x="424.4" y="182.3"/><use href="#sg" x="426.6" y="183.4"/><use href="#sg" x="428.7" y="183.6"/><use href="#sg" x="430.8" y="185.8"/><use href="#sg" x="432.9" y="184.4"/><use href="#sg" x="435.0" y="184.8"/><use href="#sg" x="437.1" y="184.7"/><use href="#sg" x="439.2" y="184.2"/><use href="#sg" x="441.3" y="182.5"/><use href="#sg" x="443.4" y="183.1"/><use href="#sg" x="445.5" y="185.1"/><use href="#sg" x="447.6" y="186.3"/><use href="#sg" x="449.7" y="185.4"/><use href="#sg" x="451.8" y="184.4"/><use href="#sg" x="453.9" y="187.8"/><use href="#sg" x="456.0" y="189.8"/><use href="#sg" x="458.1" y="191.2"/><use href="#sg" x="460.2" y="191.5"/><use href="#sg" x="462.3" y="193.4"/><use href="#sg" x="464.4" y="193.3"/><use href="#sg" x="466.5" y="194.1"/><use href="#sg" x="468.6" y="193.0"/><use href="#sg" x="470.7" y="192.1"/><use href="#sg" x="472.8" y="190.6"/><use href="#sg" x="474.9" y="191.3"/><use href="#sg" x="477.0" y="193.5"/><use href="#sg" x="479.1" y="194.1"/><use href="#sg" x="481.2" y="195.7"/><use href="#sg" x="483.3" y="196.4"/><use href="#sg" x="485.4" y="197.1"/><use href="#sg" x="487.5" y="196.0"/><use href="#sg" x="489.6" y="196.2"/><use href="#sg" x="491.7" y="195.6"/><use href="#sg" x="493.9" y="194.7"/><use href="#sg" x="496.0" y="193.9"/><use href="#sg" x="498.1" y="192.2"/><use href="#sg" x="500.2" y="192.7"/><use href="#sg" x="502.3" y="192.6"/><use href="#sg" x="504.4" y="193.6"/><use href="#sg" x="506.5" y="193.1"/><use href="#sg" x="508.6" y="194.1"/><use href="#sg" x="510.7" y="193.5"/><use href="#sg" x="512.8" y="193.7"/><use href="#sg" x="514.9" y="195.2"/><use href="#sg" x="517.0" y="191.3"/><use href="#sg" x="519.1" y="187.8"/><use href="#sg" x="521.2" y="191.8"/><use href="#sg" x="523.3" y="195.2"/><use href="#sg" x="525.4" y="196.7"/><use href="#sg" x="527.5" y="198.6"/><use href="#sg" x="529.6" y="199.2"/><use href="#sg" x="531.7" y="195.5"/><use href="#sg" x="533.8" y="193.1"/><use href="#sg" x="535.9" y="194.8"/><use href="#sg" x="538.0" y="197.2"/><use href="#sg" x="540.1" y="197.9"/><use href="#sg" x="542.2" y="196.7"/><use href="#sg" x="544.3" y="193.0"/><use href="#sg" x="546.4" y="192.7"/><use href="#sg" x="548.5" y="190.5"/><use href="#sg" x="550.6" y="190.1"/><use href="#sg" x="552.7" y="191.4"/><use href="#sg" x="554.8" y="193.7"/></g>
</g>
<rect x="325.6" y="143.0" width="262.9" height="114.4" fill="none" stroke="#000" stroke-width="1.05"/>
<path d="M325.6,257.4v-3.0M325.6,143.0v3.0M336.1,257.4v-1.5M336.1,143.0v1.5M346.6,257.4v-1.5M346.6,143.0v1.5M357.1,257.4v-1.5M357.1,143.0v1.5M367.7,257.4v-1.5M367.7,143.0v1.5M378.2,257.4v-3.0M378.2,143.0v3.0M388.7,257.4v-1.5M388.7,143.0v1.5M399.2,257.4v-1.5M399.2,143.0v1.5M409.7,257.4v-1.5M409.7,143.0v1.5M420.2,257.4v-1.5M420.2,143.0v1.5M430.8,257.4v-3.0M430.8,143.0v3.0M441.3,257.4v-1.5M441.3,143.0v1.5M451.8,257.4v-1.5M451.8,143.0v1.5M462.3,257.4v-1.5M462.3,143.0v1.5M472.8,257.4v-1.5M472.8,143.0v1.5M483.3,257.4v-3.0M483.3,143.0v3.0M493.9,257.4v-1.5M493.9,143.0v1.5M504.4,257.4v-1.5M504.4,143.0v1.5M514.9,257.4v-1.5M514.9,143.0v1.5M525.4,257.4v-1.5M525.4,143.0v1.5M535.9,257.4v-3.0M535.9,143.0v3.0M546.4,257.4v-1.5M546.4,143.0v1.5M557.0,257.4v-1.5M557.0,143.0v1.5M567.5,257.4v-1.5M567.5,143.0v1.5M578.0,257.4v-1.5M578.0,143.0v1.5M588.5,257.4v-3.0M588.5,143.0v3.0" stroke="#000" stroke-width="0.9" fill="none"/>
<path d="M325.6,143.0h5.2M588.5,143.0h-5.2M325.6,148.7h2.6M588.5,148.7h-2.6M325.6,154.4h2.6M588.5,154.4h-2.6M325.6,160.2h2.6M588.5,160.2h-2.6M325.6,165.9h5.2M588.5,165.9h-5.2M325.6,171.6h2.6M588.5,171.6h-2.6M325.6,177.3h2.6M588.5,177.3h-2.6M325.6,183.0h2.6M588.5,183.0h-2.6M325.6,188.8h5.2M588.5,188.8h-5.2M325.6,194.5h2.6M588.5,194.5h-2.6M325.6,200.2h2.6M588.5,200.2h-2.6M325.6,205.9h2.6M588.5,205.9h-2.6M325.6,211.6h5.2M588.5,211.6h-5.2M325.6,217.4h2.6M588.5,217.4h-2.6M325.6,223.1h2.6M588.5,223.1h-2.6M325.6,228.8h2.6M588.5,228.8h-2.6M325.6,234.5h5.2M588.5,234.5h-5.2M325.6,240.2h2.6M588.5,240.2h-2.6M325.6,246.0h2.6M588.5,246.0h-2.6M325.6,251.7h2.6M588.5,251.7h-2.6M325.6,257.4h5.2M588.5,257.4h-5.2" stroke="#000" stroke-width="0.9" fill="none"/>
<text x="321.6" y="150.6" font-size="10.4" text-anchor="end" fill="#000" >0.6</text>
<text x="321.6" y="170.9" font-size="10.4" text-anchor="end" fill="#000" >0.4</text>
<text x="321.6" y="193.8" font-size="10.4" text-anchor="end" fill="#000" >0.2</text>
<text x="321.6" y="216.6" font-size="10.4" text-anchor="end" fill="#000" >0.0</text>
<text x="321.6" y="239.5" font-size="10.4" text-anchor="end" fill="#000" textLength="21.5" lengthAdjust="spacing">−0.2</text>
<text x="321.6" y="257.7" font-size="10.4" text-anchor="end" fill="#000" textLength="21.5" lengthAdjust="spacing">−0.4</text>
<text x="325.6" y="271.5" font-size="10.4" text-anchor="middle" fill="#000" >0</text>
<text x="378.2" y="271.5" font-size="10.4" text-anchor="middle" fill="#000" >5</text>
<text x="430.8" y="271.5" font-size="10.4" text-anchor="middle" fill="#000" >10</text>
<text x="483.3" y="271.5" font-size="10.4" text-anchor="middle" fill="#000" >15</text>
<text x="535.9" y="271.5" font-size="10.4" text-anchor="middle" fill="#000" >20</text>
<text x="588.5" y="271.5" font-size="10.4" text-anchor="middle" fill="#000" >25</text>
<text transform="translate(291.2,200.7) rotate(-90)" font-size="10.4" text-anchor="middle" textLength="19.5" lengthAdjust="spacingAndGlyphs">B−V</text>
<clipPath id="cr3"><rect x="325.6" y="278.7" width="262.9" height="114.5"/></clipPath>
<g clip-path="url(#cr3)">
<line x1="330.3" y1="278.7" x2="330.3" y2="393.2" stroke="#000" stroke-width="1" stroke-dasharray="1,2.4"/>
<line x1="472.8" y1="278.7" x2="472.8" y2="393.2" stroke="#000" stroke-width="1" stroke-dasharray="1,2.4"/>
<line x1="557.0" y1="278.7" x2="557.0" y2="393.2" stroke="#000" stroke-width="1" stroke-dasharray="1,2.4"/>
<line x1="325.6" y1="330.3" x2="588.5" y2="330.3" stroke="#ff0000" stroke-width="1.2"/>
<g><use href="#sg" x="327.7" y="363.6"/><use href="#sg" x="329.8" y="358.3"/><use href="#sg" x="331.9" y="353.6"/><use href="#sg" x="334.0" y="349.4"/><use href="#sg" x="336.1" y="345.9"/><use href="#sg" x="338.2" y="343.5"/><use href="#sg" x="340.3" y="341.6"/><use href="#sg" x="342.4" y="340.0"/><use href="#sg" x="344.5" y="338.6"/><use href="#sg" x="346.6" y="336.8"/><use href="#sg" x="348.7" y="334.0"/><use href="#sg" x="350.8" y="331.3"/><use href="#sg" x="352.9" y="329.6"/><use href="#sg" x="355.0" y="327.9"/><use href="#sg" x="357.1" y="327.3"/><use href="#sg" x="359.2" y="326.9"/><use href="#sg" x="361.4" y="327.5"/><use href="#sg" x="363.5" y="328.4"/><use href="#sg" x="365.6" y="328.8"/><use href="#sg" x="367.7" y="328.5"/><use href="#sg" x="369.8" y="327.6"/><use href="#sg" x="371.9" y="325.5"/><use href="#sg" x="374.0" y="323.3"/><use href="#sg" x="376.1" y="319.8"/><use href="#sg" x="378.2" y="316.3"/><use href="#sg" x="380.3" y="313.4"/><use href="#sg" x="382.4" y="310.6"/><use href="#sg" x="384.5" y="308.3"/><use href="#sg" x="386.6" y="306.2"/><use href="#sg" x="388.7" y="305.1"/><use href="#sg" x="390.8" y="304.7"/><use href="#sg" x="392.9" y="304.5"/><use href="#sg" x="395.0" y="304.8"/><use href="#sg" x="397.1" y="305.1"/><use href="#sg" x="399.2" y="305.7"/><use href="#sg" x="401.3" y="306.5"/><use href="#sg" x="403.4" y="307.4"/><use href="#sg" x="405.5" y="308.3"/><use href="#sg" x="407.6" y="309.3"/><use href="#sg" x="409.7" y="310.3"/><use href="#sg" x="411.8" y="311.3"/><use href="#sg" x="413.9" y="312.6"/><use href="#sg" x="416.0" y="313.9"/><use href="#sg" x="418.1" y="315.3"/><use href="#sg" x="420.2" y="316.5"/><use href="#sg" x="422.3" y="317.8"/><use href="#sg" x="424.4" y="319.4"/><use href="#sg" x="426.6" y="318.7"/><use href="#sg" x="428.7" y="318.0"/><use href="#sg" x="430.8" y="317.3"/><use href="#sg" x="432.9" y="317.6"/><use href="#sg" x="435.0" y="315.9"/><use href="#sg" x="437.1" y="316.1"/><use href="#sg" x="439.2" y="317.4"/><use href="#sg" x="441.3" y="317.5"/><use href="#sg" x="443.4" y="314.5"/><use href="#sg" x="445.5" y="315.2"/><use href="#sg" x="447.6" y="315.4"/><use href="#sg" x="449.7" y="317.2"/><use href="#sg" x="451.8" y="316.6"/><use href="#sg" x="453.9" y="315.3"/><use href="#sg" x="456.0" y="315.4"/><use href="#sg" x="458.1" y="315.3"/><use href="#sg" x="460.2" y="315.5"/><use href="#sg" x="462.3" y="316.8"/><use href="#sg" x="464.4" y="318.5"/><use href="#sg" x="466.5" y="320.0"/><use href="#sg" x="468.6" y="320.3"/><use href="#sg" x="470.7" y="321.8"/><use href="#sg" x="472.8" y="323.9"/><use href="#sg" x="474.9" y="322.6"/><use href="#sg" x="477.0" y="322.6"/><use href="#sg" x="479.1" y="319.9"/><use href="#sg" x="481.2" y="319.5"/><use href="#sg" x="483.3" y="321.7"/><use href="#sg" x="485.4" y="322.1"/><use href="#sg" x="487.5" y="321.9"/><use href="#sg" x="489.6" y="321.2"/><use href="#sg" x="491.7" y="322.0"/><use href="#sg" x="493.9" y="323.0"/><use href="#sg" x="496.0" y="325.8"/><use href="#sg" x="498.1" y="325.6"/><use href="#sg" x="500.2" y="326.2"/><use href="#sg" x="502.3" y="325.3"/><use href="#sg" x="504.4" y="324.5"/><use href="#sg" x="506.5" y="322.7"/><use href="#sg" x="508.6" y="319.5"/><use href="#sg" x="510.7" y="320.0"/><use href="#sg" x="512.8" y="322.3"/><use href="#sg" x="514.9" y="324.5"/><use href="#sg" x="517.0" y="324.9"/><use href="#sg" x="519.1" y="325.4"/><use href="#sg" x="521.2" y="324.4"/><use href="#sg" x="523.3" y="323.2"/><use href="#sg" x="525.4" y="321.5"/><use href="#sg" x="527.5" y="321.2"/><use href="#sg" x="529.6" y="321.4"/><use href="#sg" x="531.7" y="322.8"/><use href="#sg" x="533.8" y="325.1"/><use href="#sg" x="535.9" y="325.1"/><use href="#sg" x="538.0" y="323.3"/><use href="#sg" x="540.1" y="323.2"/><use href="#sg" x="542.2" y="324.4"/><use href="#sg" x="544.3" y="324.8"/><use href="#sg" x="546.4" y="326.6"/><use href="#sg" x="548.5" y="328.5"/><use href="#sg" x="550.6" y="324.9"/><use href="#sg" x="552.7" y="321.6"/><use href="#sg" x="554.8" y="321.5"/></g>
</g>
<rect x="325.6" y="278.7" width="262.9" height="114.5" fill="none" stroke="#000" stroke-width="1.05"/>
<path d="M325.6,393.2v-3.0M325.6,278.7v3.0M336.1,393.2v-1.5M336.1,278.7v1.5M346.6,393.2v-1.5M346.6,278.7v1.5M357.1,393.2v-1.5M357.1,278.7v1.5M367.7,393.2v-1.5M367.7,278.7v1.5M378.2,393.2v-3.0M378.2,278.7v3.0M388.7,393.2v-1.5M388.7,278.7v1.5M399.2,393.2v-1.5M399.2,278.7v1.5M409.7,393.2v-1.5M409.7,278.7v1.5M420.2,393.2v-1.5M420.2,278.7v1.5M430.8,393.2v-3.0M430.8,278.7v3.0M441.3,393.2v-1.5M441.3,278.7v1.5M451.8,393.2v-1.5M451.8,278.7v1.5M462.3,393.2v-1.5M462.3,278.7v1.5M472.8,393.2v-1.5M472.8,278.7v1.5M483.3,393.2v-3.0M483.3,278.7v3.0M493.9,393.2v-1.5M493.9,278.7v1.5M504.4,393.2v-1.5M504.4,278.7v1.5M514.9,393.2v-1.5M514.9,278.7v1.5M525.4,393.2v-1.5M525.4,278.7v1.5M535.9,393.2v-3.0M535.9,278.7v3.0M546.4,393.2v-1.5M546.4,278.7v1.5M557.0,393.2v-1.5M557.0,278.7v1.5M567.5,393.2v-1.5M567.5,278.7v1.5M578.0,393.2v-1.5M578.0,278.7v1.5M588.5,393.2v-3.0M588.5,278.7v3.0" stroke="#000" stroke-width="0.9" fill="none"/>
<path d="M325.6,278.7h5.2M588.5,278.7h-5.2M325.6,285.9h2.6M588.5,285.9h-2.6M325.6,293.0h2.6M588.5,293.0h-2.6M325.6,300.2h2.6M588.5,300.2h-2.6M325.6,307.3h5.2M588.5,307.3h-5.2M325.6,314.5h2.6M588.5,314.5h-2.6M325.6,321.6h2.6M588.5,321.6h-2.6M325.6,328.8h2.6M588.5,328.8h-2.6M325.6,335.9h5.2M588.5,335.9h-5.2M325.6,343.1h2.6M588.5,343.1h-2.6M325.6,350.3h2.6M588.5,350.3h-2.6M325.6,357.4h2.6M588.5,357.4h-2.6M325.6,364.6h5.2M588.5,364.6h-5.2M325.6,371.7h2.6M588.5,371.7h-2.6M325.6,378.9h2.6M588.5,378.9h-2.6M325.6,386.0h2.6M588.5,386.0h-2.6M325.6,393.2h5.2M588.5,393.2h-5.2" stroke="#000" stroke-width="0.9" fill="none"/>
<text x="321.6" y="286.3" font-size="10.4" text-anchor="end" fill="#000" >0.6</text>
<text x="321.6" y="312.3" font-size="10.4" text-anchor="end" fill="#000" >0.4</text>
<text x="321.6" y="340.9" font-size="10.4" text-anchor="end" fill="#000" >0.2</text>
<text x="321.6" y="369.6" font-size="10.4" text-anchor="end" fill="#000" >0.0</text>
<text x="321.6" y="393.5" font-size="10.4" text-anchor="end" fill="#000" textLength="21.5" lengthAdjust="spacing">−0.2</text>
<text x="325.6" y="407.3" font-size="10.4" text-anchor="middle" fill="#000" >0</text>
<text x="378.2" y="407.3" font-size="10.4" text-anchor="middle" fill="#000" >5</text>
<text x="430.8" y="407.3" font-size="10.4" text-anchor="middle" fill="#000" >10</text>
<text x="483.3" y="407.3" font-size="10.4" text-anchor="middle" fill="#000" >15</text>
<text x="535.9" y="407.3" font-size="10.4" text-anchor="middle" fill="#000" >20</text>
<text x="588.5" y="407.3" font-size="10.4" text-anchor="middle" fill="#000" >25</text>
<text transform="translate(291.2,336.4) rotate(-90)" font-size="10.4" text-anchor="middle" textLength="19.5" lengthAdjust="spacingAndGlyphs">V−R</text>
<text x="456.3" y="419.0" font-size="10.4" text-anchor="middle" fill="#000" textLength="84" lengthAdjust="spacingAndGlyphs">Distance (arcsec)</text>
</svg></body></html>
